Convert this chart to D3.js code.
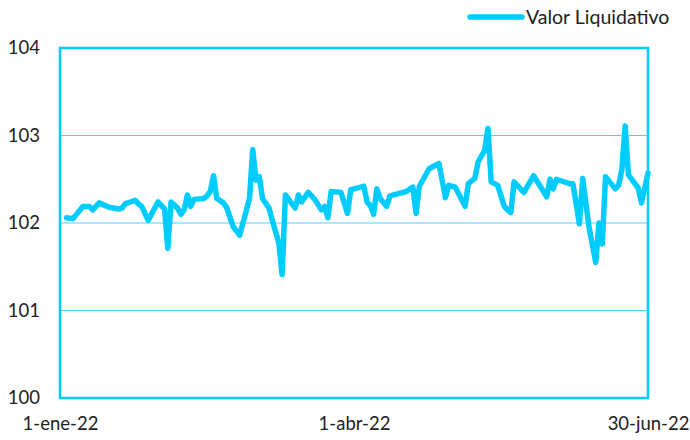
<!DOCTYPE html>
<html>
<head>
<meta charset="utf-8">
<script src="https://cdn.jsdelivr.net/npm/d3@7"></script>
<style>
  body { margin: 0; background: #fff; }
  text { font-family: Lato, "Open Sans", sans-serif; fill: #222; }
</style>
</head>
<body>
<div id="chart"></div>
<script>
// fechas y valor liquidativo
var dates = ["2022-01-03","2022-01-05","2022-01-08","2022-01-10","2022-01-11","2022-01-13","2022-01-16",
  "2022-01-19","2022-01-20","2022-01-21","2022-01-24","2022-01-25","2022-01-26","2022-01-28","2022-01-31",
  "2022-02-02","2022-02-03","2022-02-04","2022-02-06","2022-02-07","2022-02-08","2022-02-09","2022-02-10",
  "2022-02-11","2022-02-14","2022-02-15","2022-02-16","2022-02-17","2022-02-18","2022-02-20","2022-02-21",
  "2022-02-23","2022-02-24","2022-02-25","2022-02-28","2022-03-01","2022-03-02","2022-03-03","2022-03-04",
  "2022-03-06","2022-03-07","2022-03-09","2022-03-10","2022-03-11","2022-03-14","2022-03-15","2022-03-16",
  "2022-03-18","2022-03-20","2022-03-21","2022-03-22","2022-03-23","2022-03-24","2022-03-25","2022-03-28",
  "2022-03-30","2022-03-31","2022-04-01","2022-04-03","2022-04-04","2022-04-05","2022-04-06","2022-04-07",
  "2022-04-08","2022-04-09","2022-04-11","2022-04-12","2022-04-14","2022-04-17","2022-04-19","2022-04-20",
  "2022-04-21","2022-04-24","2022-04-27","2022-04-29","2022-04-30","2022-05-02","2022-05-05","2022-05-06",
  "2022-05-08","2022-05-09","2022-05-11","2022-05-12","2022-05-13","2022-05-15","2022-05-17","2022-05-18",
  "2022-05-19","2022-05-20","2022-05-23","2022-05-26","2022-05-30","2022-05-31","2022-06-01","2022-06-02",
  "2022-06-06","2022-06-07","2022-06-09","2022-06-10","2022-06-12","2022-06-14","2022-06-15","2022-06-16",
  "2022-06-17","2022-06-20","2022-06-21","2022-06-22","2022-06-23","2022-06-24","2022-06-27","2022-06-28",
  "2022-06-30"];
var values = [102.06,102.05,102.19,102.19,102.15,102.23,102.18,
  102.16,102.17,102.22,102.26,102.22,102.19,102.03,102.24,
  102.16,101.71,102.24,102.17,102.10,102.15,102.32,102.19,
  102.27,102.28,102.31,102.36,102.54,102.28,102.23,102.18,
  101.96,101.91,101.86,102.28,102.84,102.49,102.53,102.28,
  102.17,102.03,101.77,101.41,102.32,102.17,102.32,102.24,
  102.35,102.27,102.21,102.15,102.19,102.06,102.36,102.35,
  102.11,102.38,102.39,102.41,102.42,102.24,102.20,102.10,
  102.39,102.28,102.19,102.31,102.33,102.36,102.41,102.11,
  102.42,102.62,102.68,102.29,102.43,102.41,102.19,102.45,
  102.51,102.70,102.83,103.08,102.47,102.43,102.19,102.15,
  102.12,102.47,102.35,102.54,102.30,102.50,102.39,102.50,
  102.45,102.45,101.99,102.51,101.94,101.55,102.00,101.76,
  102.53,102.39,102.43,102.61,103.11,102.55,102.40,102.23,
  102.57];
var yTicks = [100, 101, 102, 103, 104];
var xTickDates = ["2022-01-01", "2022-04-01", "2022-06-30"];
var xTickLabels = ["1-ene-22", "1-abr-22", "30-jun-22"];
var seriesName = "Valor Liquidativo";

var cyan = "#00CCFF";
var margin = {top: 48, right: 42, bottom: 42, left: 60},
    width = 690 - margin.left - margin.right,   // 588
    height = 440 - margin.top - margin.bottom;  // 350

var parse = d3.timeParse("%Y-%m-%d");
var data = dates.map(function(d, i) { return {date: parse(d), value: values[i]}; });

var x = d3.scaleTime()
    .domain([parse(xTickDates[0]), parse(xTickDates[xTickDates.length - 1])])
    .range([0, width]);
var y = d3.scaleLinear().domain([100, 104]).range([height, 0]);

var svg = d3.select("#chart").append("svg")
    .attr("width", 690)
    .attr("height", 440);
var g = svg.append("g")
    .attr("transform", "translate(" + margin.left + "," + margin.top + ")");

// lineas de rejilla
g.selectAll(".grid")
    .data(yTicks.slice(1, -1))
  .enter().append("line")
    .attr("class", "grid")
    .attr("x1", 0).attr("x2", width)
    .attr("y1", function(d) { return y(d); })
    .attr("y2", function(d) { return y(d); })
    .style("stroke", "#4FD3F5")
    .style("stroke-width", 1.2);

// eje y (solo etiquetas)
var yAxis = d3.axisLeft(y).tickValues(yTicks).tickSize(0).tickPadding(20).tickFormat(d3.format("d"));
g.append("g").attr("class", "y axis").call(yAxis)
  .call(function(s) { s.select(".domain").remove(); })
  .selectAll("text").style("font-size", "18.5px").style("font-family", "Lato, sans-serif").style("fill", "#222");

// eje x (solo etiquetas)
var xAxis = d3.axisBottom(x)
    .tickValues(xTickDates.map(parse))
    .tickSize(0).tickPadding(19)
    .tickFormat(function(d, i) { return xTickLabels[i]; });
g.append("g").attr("class", "x axis")
    .attr("transform", "translate(0," + height + ")")
    .call(xAxis)
  .call(function(s) { s.select(".domain").remove(); })
  .selectAll("text").style("font-size", "18.5px").style("font-family", "Lato, sans-serif").style("fill", "#222");

// marco
g.append("rect")
    .attr("x", 0).attr("y", 0)
    .attr("width", width).attr("height", height)
    .style("fill", "none")
    .style("stroke", cyan)
    .style("stroke-width", 2.5);

// serie
var line = d3.line()
    .x(function(d) { return x(d.date); })
    .y(function(d) { return y(d.value); });
g.append("path")
    .datum(data)
    .attr("d", line)
    .style("fill", "none")
    .style("stroke", cyan)
    .style("stroke-width", 5.5)
    .style("stroke-linejoin", "round")
    .style("stroke-linecap", "round");

// leyenda
var legend = svg.append("g").attr("transform", "translate(470,17)");
legend.append("line")
    .attr("x1", 0).attr("x2", 52).attr("y1", 0).attr("y2", 0)
    .style("stroke", cyan).style("stroke-width", 5.5).style("stroke-linecap", "round");
legend.append("text")
    .attr("x", 56).attr("y", 0).attr("dy", ".35em")
    .style("font-size", "19.5px")
    .text(seriesName);
</script>
</body>
</html>
